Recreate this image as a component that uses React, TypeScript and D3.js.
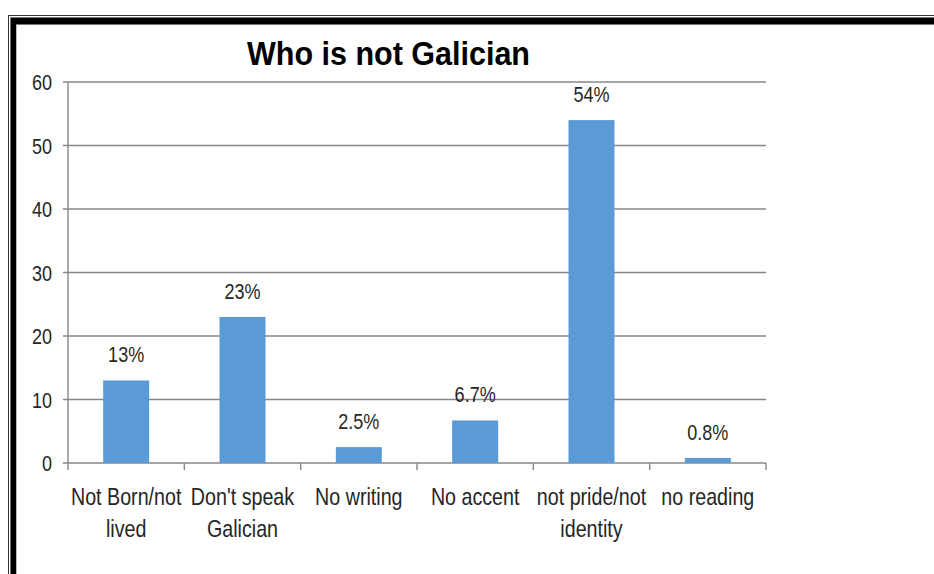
import React from "react";
import * as d3 from "d3";

const categories: string[] = ["Not Born/not\nlived", "Don't speak\nGalician", "No writing", "No accent", "not pride/not\nidentity", "no reading"];
const values: number[] = [13, 23, 2.5, 6.7, 54, 0.8];
const valueLabels: string[] = ["13%", "23%", "2.5%", "6.7%", "54%", "0.8%"];
const yTicks: number[] = [0, 10, 20, 30, 40, 50, 60];
const title = "Who is not Galician";

const FONT = "'Liberation Sans', Arial, sans-serif";
const SX = 0.82;

function NText(props: { x: number; y: number; size: number; anchor: string; children: React.ReactNode; fill?: string; weight?: string }) {
  return (
    <g transform={`translate(${props.x},${props.y}) scale(${SX},1)`}>
      <text x={0} y={0} textAnchor={props.anchor as any} fontFamily={FONT} fontSize={props.size} fontWeight={props.weight || "normal"} fill={props.fill || "#262626"}>{props.children}</text>
    </g>
  );
}

export default function App() {
  const W = 934, H = 574;
  const left = 68, right = 766, top = 82, bottom = 463;
  const x = d3.scaleBand<string>().domain(categories).range([left, right]).paddingInner(0).paddingOuter(0);
  const y = d3.scaleLinear().domain([0, 60]).range([bottom, top]);
  const barW = 46;
  const grid = "#878787";
  return (
    <svg width={W} height={H} style={{ position: "absolute", left: 0, top: 0, background: "#fff" }}>
      {/* frame */}
      <line x1={8} x2={W} y1={15.5} y2={15.5} stroke="#333" strokeWidth={1} />
      <line x1={8.5} x2={8.5} y1={15} y2={H} stroke="#333" strokeWidth={1} />
      <rect x={10.5} y={17.5} width={W} height={7} fill="#000" stroke="#777" strokeWidth={1} />
      <rect x={10.5} y={17.5} width={5.5} height={H} fill="#000" stroke="#777" strokeWidth={1} />
      <rect x={11} y={18} width={W} height={6} fill="#000" />
      <rect x={11} y={18} width={5} height={H} fill="#000" />

      <text x={388.5} y={65} textAnchor="middle" fontFamily={FONT} fontWeight="bold" fontSize={34} fill="#000" textLength={283} lengthAdjust="spacingAndGlyphs">{title}</text>

      {yTicks.map((t) => (
        <g key={t}>
          <line x1={63} x2={right} y1={y(t)} y2={y(t)} stroke={grid} strokeWidth={1.6} />
          <NText x={52} y={y(t) + 8} size={22} anchor="end">{t}</NText>
        </g>
      ))}
      <line x1={left} x2={left} y1={top} y2={bottom} stroke={grid} strokeWidth={1.4} />
      {categories.map((c, i) => (
        <line key={"t" + i} x1={x(c)!} x2={x(c)!} y1={bottom} y2={bottom + 7} stroke={grid} strokeWidth={1.4} />
      ))}
      <line x1={right} x2={right} y1={bottom} y2={bottom + 7} stroke={grid} strokeWidth={1.4} />

      {categories.map((c, i) => {
        const cx = x(c)! + x.bandwidth() / 2;
        return (
          <g key={c}>
            <rect x={cx - barW / 2} y={y(values[i])} width={barW} height={bottom - y(values[i])} fill="#5B9BD5" />
            <NText x={cx} y={y(values[i]) - 18} size={22} anchor="middle">{valueLabels[i]}</NText>
            {c.split("\n").map((line, j) => (
              <NText key={j} x={cx} y={505 + j * 32} size={24} anchor="middle">{line}</NText>
            ))}
          </g>
        );
      })}
    </svg>
  );
}
